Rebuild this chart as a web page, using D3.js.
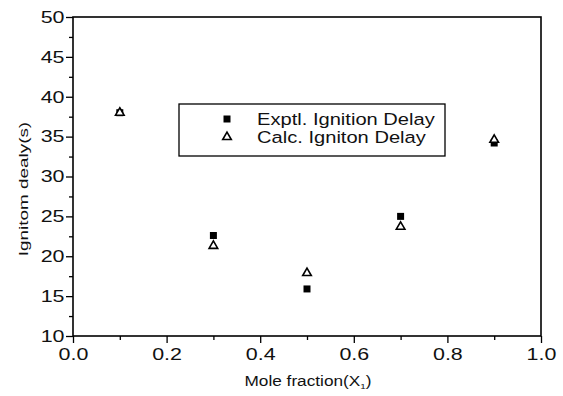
<!DOCTYPE html>
<html>
<head>
<meta charset="utf-8">
<script src="https://d3js.org/d3.v7.min.js"></script>
<style>
  html, body { margin: 0; padding: 0; background: #fff; }
  svg { display: block; font-family: "Liberation Sans", Arial, sans-serif; }
</style>
</head>
<body>
<svg id="chart" width="563" height="396"></svg>
<script>
// --- data ---
const moleFraction = [0.1, 0.3, 0.5, 0.7, 0.9];
const exptlDelay = [38.0, 22.6, 15.9, 25.0, 34.2];
const calcDelay = [38.0, 21.3, 17.9, 23.7, 34.6];
const xTicks = [0, 0.2, 0.4, 0.6, 0.8, 1.0];
const yTicks = [10, 15, 20, 25, 30, 35, 40, 45, 50];
const legendLabels = ["Exptl. Ignition Delay", "Calc. Igniton Delay"];

(function() {
    const svg = d3.select('#chart');
    const plotLeft = 73, plotRight = 541, plotTop = 17, plotBottom = 336;
    const FONT = '"Liberation Sans", Arial, sans-serif';
    const STRETCH = 1.3; // the source image text is wide

    const x = d3.scaleLinear().domain([0, 1]).range([plotLeft, plotRight]);
    const y = d3.scaleLinear().domain([10, 50]).range([plotBottom, plotTop]);

    // frame
    svg.append('rect')
        .attr('x', plotLeft).attr('y', plotTop)
        .attr('width', plotRight - plotLeft).attr('height', plotBottom - plotTop)
        .attr('fill', 'none').attr('stroke', '#000').attr('stroke-width', 1.6);

    // bottom axis: minor + major ticks
    const xAxis = svg.append('g').attr('transform', `translate(0,${plotBottom})`);
    xAxis.append('g').call(d3.axisBottom(x).tickValues([0.1, 0.3, 0.5, 0.7, 0.9]).tickSize(4).tickFormat(''));
    xAxis.append('g').call(d3.axisBottom(x).tickValues(xTicks).tickSize(7).tickPadding(5).tickFormat(d3.format('.1f')));
    xAxis.selectAll('.domain').remove();
    xAxis.selectAll('line').attr('stroke-width', 1.3);
    xAxis.selectAll('text').attr('font-size', 16.5).attr('fill', '#111')
        .attr('font-family', FONT)
        .attr('transform', `scale(${STRETCH},1)`);

    // left axis
    const yAxis = svg.append('g').attr('transform', `translate(${plotLeft},0)`);
    yAxis.append('g').call(d3.axisLeft(y).tickValues([12.5, 17.5, 22.5, 27.5, 32.5, 37.5, 42.5, 47.5]).tickSize(4).tickFormat(''));
    yAxis.append('g').call(d3.axisLeft(y).tickValues(yTicks).tickSize(7).tickPadding(1.5));
    yAxis.selectAll('.domain').remove();
    yAxis.selectAll('line').attr('stroke-width', 1.3);
    yAxis.selectAll('text').attr('font-size', 16.5).attr('fill', '#111')
        .attr('font-family', FONT)
        .attr('x', -8.5 / STRETCH)
        .attr('transform', `scale(${STRETCH},1)`);

    // axis titles
    const xt = svg.append('g').attr('transform', 'translate(308,386) scale(1.23,1)')
        .append('text')
        .attr('text-anchor', 'middle').attr('font-size', 14).attr('fill', '#111');
    xt.append('tspan').text('Mole fraction(X');
    xt.append('tspan').attr('font-size', 8).attr('dy', 3).text('1');
    xt.append('tspan').attr('dy', -3).text(')');

    svg.append('text')
        .attr('transform', 'translate(28,189) rotate(-90) scale(1.4,1)')
        .attr('text-anchor', 'middle').attr('font-size', 13.5).attr('fill', '#111')
        .text('Ignitom dealy(s)');

    const squareSym = d3.symbol().type(d3.symbolSquare).size(49);
    const triSym = d3.symbol().type(d3.symbolTriangle).size(32);

    // markers
    svg.append('g').selectAll('path')
        .data(moleFraction)
        .join('path')
        .attr('d', squareSym)
        .attr('transform', (d, i) => `translate(${x(d)},${y(exptlDelay[i])})`)
        .attr('fill', '#000');

    svg.append('g').selectAll('path')
        .data(moleFraction)
        .join('path')
        .attr('d', triSym)
        .attr('transform', (d, i) => `translate(${x(d)},${y(calcDelay[i])})`)
        .attr('fill', '#fff').attr('stroke', '#000').attr('stroke-width', 1.6);

    // legend
    const lg = svg.append('g');
    lg.append('rect')
        .attr('x', 179).attr('y', 104).attr('width', 266).attr('height', 52)
        .attr('fill', '#fff').attr('stroke', '#000').attr('stroke-width', 1.3);
    const rows = lg.selectAll('g.row').data(legendLabels).join('g')
        .attr('class', 'row')
        .attr('transform', (d, i) => `translate(0,${119 + i * 18})`);
    rows.append('path')
        .attr('d', (d, i) => i === 0 ? squareSym() : triSym())
        .attr('transform', 'translate(227,0)')
        .attr('fill', (d, i) => i === 0 ? '#000' : '#fff')
        .attr('stroke', (d, i) => i === 0 ? 'none' : '#000')
        .attr('stroke-width', 1.6);
    rows.append('text')
        .attr('transform', 'translate(257,6) scale(1.22,1)')
        .attr('font-size', 16.5).attr('fill', '#111')
        .text(d => d);
})();
</script>
</body>
</html>
